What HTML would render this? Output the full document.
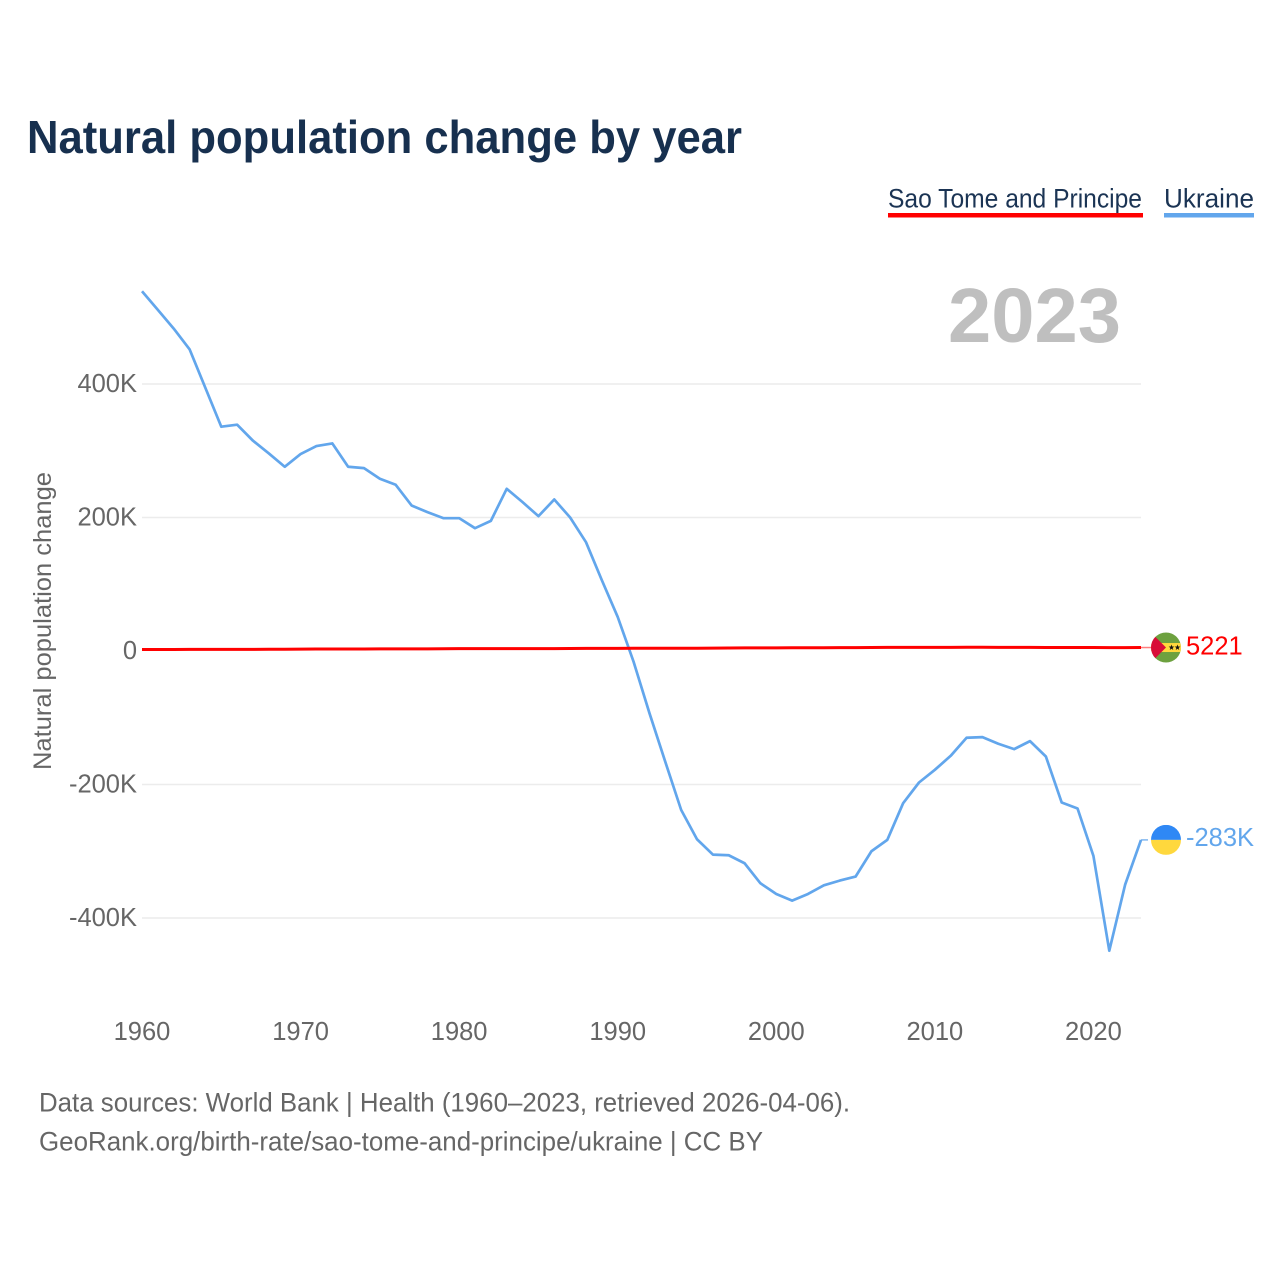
<!DOCTYPE html>
<html lang="en">
<head>
<meta charset="utf-8">
<title>Natural population change by year</title>
<style>
html,body{margin:0;padding:0;background:#fff;width:1280px;height:1280px;overflow:hidden}
svg{display:block;font-family:"Liberation Sans",sans-serif}
</style>
</head>
<body>
<svg id="chart" xmlns="http://www.w3.org/2000/svg" width="1280" height="1280" viewBox="0 0 1280 1280">
  <text x="27" y="153" font-size="46" font-weight="700" fill="#17304f" textLength="715" lengthAdjust="spacingAndGlyphs">Natural population change by year</text>

  <g>
    <text x="888" y="207.5" font-size="27" fill="#1b3454" textLength="254" lengthAdjust="spacingAndGlyphs">Sao Tome and Principe</text>
    <rect x="888" y="213" width="255" height="4.5" fill="#ff0000"/>
  </g>
  <g>
    <text x="1164" y="207.5" font-size="27" fill="#1b3454" textLength="90" lengthAdjust="spacingAndGlyphs">Ukraine</text>
    <rect x="1164" y="213" width="90" height="4.5" fill="#62a6ec"/>
  </g>

  <text x="948" y="342" font-size="77" font-weight="700" fill="#bfbfbf" textLength="173" lengthAdjust="spacingAndGlyphs">2023</text>

  <g id="grid"></g>
  <g id="yticks"></g>
  <g id="xticks"></g>

  <text transform="translate(51,770) rotate(-90)" font-size="25" fill="#666666" textLength="298" lengthAdjust="spacingAndGlyphs">Natural population change</text>

  <g id="series"></g>
  <g id="ends"></g>

  <g>
    <text x="39" y="1111.5" font-size="26.5" fill="#666666" textLength="811" lengthAdjust="spacingAndGlyphs">Data sources: World Bank | Health (1960–2023, retrieved 2026-04-06).</text>
    <text x="39" y="1150.5" font-size="26.5" fill="#666666" textLength="724" lengthAdjust="spacingAndGlyphs">GeoRank.org/birth-rate/sao-tome-and-principe/ukraine | CC BY</text>
  </g>
</svg>
<script>
const years = [1960,1961,1962,1963,1964,1965,1966,1967,1968,1969,1970,1971,1972,1973,1974,1975,1976,1977,1978,1979,1980,1981,1982,1983,1984,1985,1986,1987,1988,1989,1990,1991,1992,1993,1994,1995,1996,1997,1998,1999,2000,2001,2002,2003,2004,2005,2006,2007,2008,2009,2010,2011,2012,2013,2014,2015,2016,2017,2018,2019,2020,2021,2022,2023];
const ukraineValues = [539,511,483,452,394,336,339,315,296,276,295,307,311,276,274,258,249,218,208,199,199,184,195,243,223,202,227,200,163,106,51,-16,-93,-166,-238,-282,-305,-306,-318,-348,-364,-374,-364,-351,-344,-338,-300,-283,-228,-197,-178,-157,-130,-129,-139,-147,-135,-158,-227,-236,-307,-449,-350,-283];
const saoTomeValues = [2.3,2.3,2.3,2.4,2.4,2.4,2.4,2.5,2.7,2.7,2.8,2.9,2.9,2.9,2.9,3.1,3.2,3.2,3.2,3.3,3.5,3.5,3.5,3.5,3.6,3.6,3.6,3.8,3.9,3.9,4.0,4.2,4.2,4.2,4.2,4.2,4.3,4.4,4.6,4.6,4.6,4.9,4.9,4.9,5.1,5.1,5.2,5.4,5.5,5.5,5.5,5.5,5.6,5.6,5.5,5.5,5.4,5.3,5.2,5.2,5.2,5.1,5.1,5.2];
const yTickValues = [400,200,0,-200,-400];
const yTickLabels = ["400K","200K","0","-200K","-400K"];
const xTickValues = [1960,1970,1980,1990,2000,2010,2020];
const endLabels = ["5221","-283K"];

const NS = "http://www.w3.org/2000/svg";
const RED = "#ff0000", BLUE = "#62a6ec", TICK = "#666666";
const xScale = year => 142 + (year - 1960) * (1141 - 142) / (2023 - 1960);
const yScale = value => 651 - value * 0.6675;
function make(tag, attrs, parent) {
  const el = document.createElementNS(NS, tag);
  for (const k in attrs) el.setAttribute(k, attrs[k]);
  parent.appendChild(el);
  return el;
}
const grid = document.getElementById("grid");
const yticks = document.getElementById("yticks");
const xticks = document.getElementById("xticks");
const series = document.getElementById("series");
const ends = document.getElementById("ends");

yTickValues.forEach((v, i) => {
  if (v !== 0) {
    const line = make("line", {x1:142, x2:1141, y1:yScale(v), y2:yScale(v), stroke:"#ececec", "stroke-width":1.5}, grid);
    
    
  }
  const t = make("text", {x:137, y:yScale(v) + 8, "text-anchor":"end", "font-size":25.5, fill:TICK}, yticks);
  t.textContent = yTickLabels[i];
  
  
});
xTickValues.forEach(y => {
  const t = make("text", {x:xScale(y), y:1040, "text-anchor":"middle", "font-size":25.5, fill:TICK}, xticks);
  t.textContent = String(y);
  
  
});

function pathFor(values) {
  return values.map((v, i) => (i ? "L" : "M") + xScale(years[i]).toFixed(2) + " " + yScale(v).toFixed(2)).join(" ");
}
const ukraineLine = make("path", {d:pathFor(ukraineValues), fill:"none", stroke:BLUE, "stroke-width":2.7, "stroke-linejoin":"round"}, series);


const saoTomeLine = make("path", {d:pathFor(saoTomeValues), fill:"none", stroke:RED, "stroke-width":3, "stroke-linejoin":"round"}, series);



const lastX = xScale(years[years.length - 1]);
const stpY = yScale(saoTomeValues[saoTomeValues.length - 1]);
const uaY = yScale(ukraineValues[ukraineValues.length - 1]);
const flagX = 1166, R = 15;

const c1 = make("line", {x1:lastX, x2:1151, y1:stpY, y2:stpY, stroke:RED, "stroke-width":1.5, opacity:.5}, ends);


const c2 = make("line", {x1:lastX, x2:1148, y1:uaY, y2:uaY, stroke:BLUE, "stroke-width":1.5, opacity:.8}, ends);



const defs = make("defs", {}, ends);
const cp1 = make("clipPath", {id:"clip-stp"}, defs);
make("circle", {cx:flagX, cy:stpY, r:R}, cp1);
const cp2 = make("clipPath", {id:"clip-ua"}, defs);
make("circle", {cx:flagX, cy:uaY, r:R}, cp2);

const stpFlag = make("g", {"clip-path":"url(#clip-stp)"}, ends);


make("rect", {x:flagX - R, y:stpY - R, width:2 * R, height:2 * R, fill:"#6da13f"}, stpFlag);
make("rect", {x:flagX - R, y:stpY - 4.5, width:2 * R, height:9, fill:"#ffd83d"}, stpFlag);
make("polygon", {points:`${flagX - R},${stpY - R} ${flagX},${stpY} ${flagX - R},${stpY + R}`, fill:"#d80d37"}, stpFlag);
[5.5, 11.5].forEach(dx => {
  const pts = [];
  for (let i = 0; i < 10; i++) {
    const r = i % 2 ? 1.2 : 3;
    const a = -Math.PI / 2 + i * Math.PI / 5;
    pts.push((flagX + dx + r * Math.cos(a)).toFixed(2) + "," + (stpY + r * Math.sin(a)).toFixed(2));
  }
  make("polygon", {points:pts.join(" "), fill:"#111111"}, stpFlag);
});

const uaFlag = make("g", {"clip-path":"url(#clip-ua)"}, ends);


make("rect", {x:flagX - R, y:uaY - R, width:2 * R, height:R, fill:"#2f88f5"}, uaFlag);
make("rect", {x:flagX - R, y:uaY, width:2 * R, height:R, fill:"#ffd83d"}, uaFlag);

const l1 = make("text", {x:1186, y:stpY + 7, "font-size":25.5, fill:RED}, ends);
l1.textContent = endLabels[0];


const l2 = make("text", {x:1186, y:uaY + 6, "font-size":25.5, fill:BLUE}, ends);
l2.textContent = endLabels[1];


</script>
</body>
</html>
